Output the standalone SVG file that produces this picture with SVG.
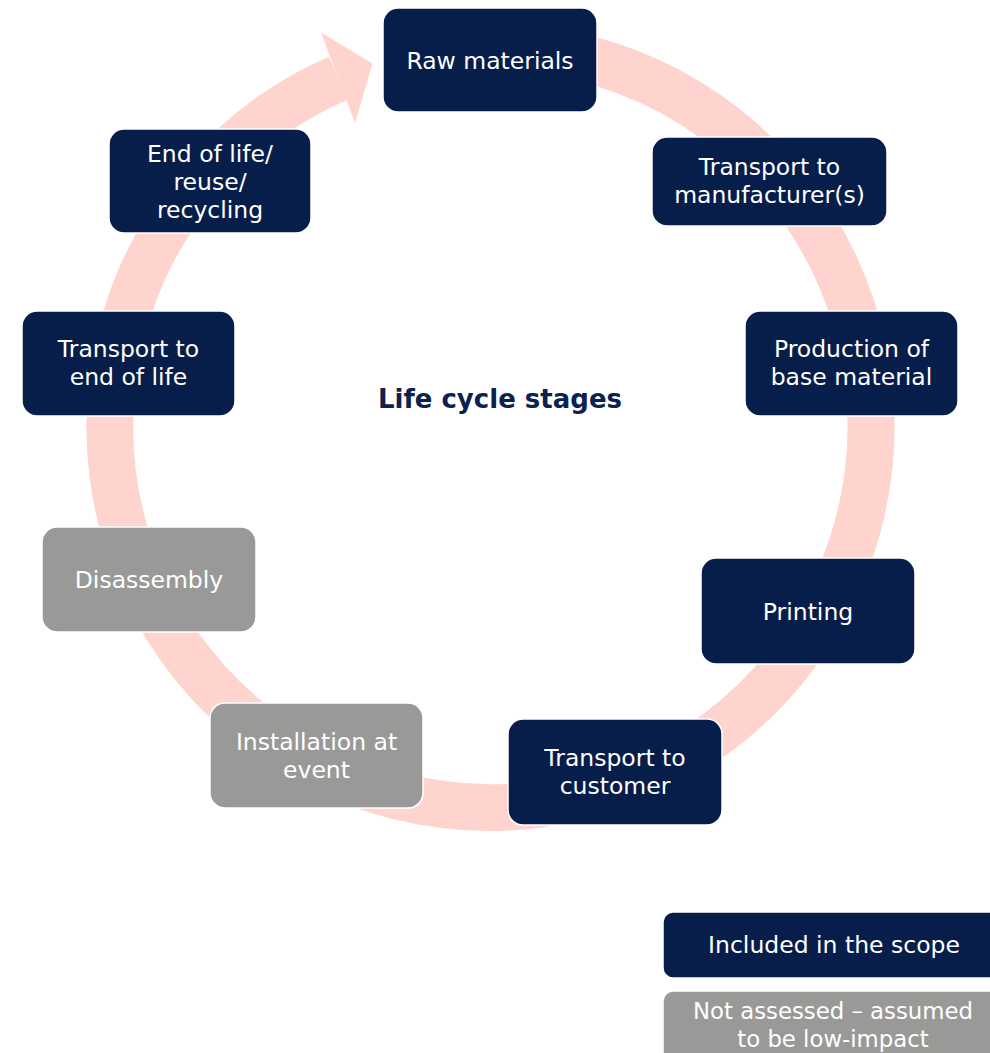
<svg xmlns="http://www.w3.org/2000/svg" width="990" height="1053" viewBox="0 0 990 1053">
<style>
.nav{fill:#081E4A;stroke:#ffffff;stroke-width:1.5}
.gry{fill:#999A97;stroke:#ffffff;stroke-width:1.5}
.t{font-family:"DejaVu Sans",Verdana,sans-serif;font-size:23.5px;fill:#ffffff;text-anchor:middle}
.title{font-family:"DejaVu Sans",Verdana,sans-serif;font-size:26px;font-weight:bold;fill:#0B2150;text-anchor:middle}
</style>
<rect width="990" height="1053" fill="#ffffff"/>
<g id="connectors">
<path d="M424.4,52.3 A380.5,380.5 0 1 1 338.2,78.3" fill="none" stroke="#FFD4CE" stroke-width="47"/>
<polygon points="321,32.5 372.5,63.5 355,123" fill="#FFD4CE"/>
</g>
<g id="raw-materials"><rect class="nav" x="383" y="8" width="214" height="104" rx="15"/><text class="t" x="490" y="68.5">Raw materials</text></g>
<g id="transport-manufacturer"><rect class="nav" x="652" y="137" width="235" height="89" rx="15"/><text class="t" x="769.5" y="175">Transport to</text><text class="t" x="769.5" y="203">manufacturer(s)</text></g>
<g id="production"><rect class="nav" x="745" y="311" width="213" height="105" rx="15"/><text class="t" x="851.5" y="357">Production of</text><text class="t" x="851.5" y="385">base material</text></g>
<g id="printing"><rect class="nav" x="701" y="558" width="214" height="106" rx="15"/><text class="t" x="808" y="619.5">Printing</text></g>
<g id="transport-customer"><rect class="nav" x="508" y="719" width="214" height="106" rx="15"/><text class="t" x="615" y="766">Transport to</text><text class="t" x="615" y="794">customer</text></g>
<g id="installation"><rect class="gry" x="210" y="703" width="213" height="105" rx="15"/><text class="t" x="316.5" y="750">Installation at</text><text class="t" x="316.5" y="778">event</text></g>
<g id="disassembly"><rect class="gry" x="42" y="527" width="214" height="105" rx="15"/><text class="t" x="149" y="588">Disassembly</text></g>
<g id="transport-eol"><rect class="nav" x="22" y="311" width="213" height="105" rx="15"/><text class="t" x="128.5" y="357">Transport to</text><text class="t" x="128.5" y="385">end of life</text></g>
<g id="end-of-life"><rect class="nav" x="109" y="129" width="202" height="104" rx="15"/><text class="t" x="210" y="162">End of life/</text><text class="t" x="210" y="190">reuse/</text><text class="t" x="210" y="218">recycling</text></g>
<g id="center-label"><text class="title" x="500" y="408">Life cycle stages</text></g>
<g id="legend-included"><rect class="nav" x="663" y="912" width="345" height="66" rx="10"/><text class="t" x="834" y="953">Included in the scope</text></g>
<g id="legend-not-assessed"><rect class="gry" x="663" y="991" width="345" height="80" rx="10"/><text class="t" x="833" y="1018.5" style="font-size:22.8px">Not assessed – assumed</text><text class="t" x="833" y="1046.5" style="font-size:22.8px">to be low-impact</text></g>
</svg>
